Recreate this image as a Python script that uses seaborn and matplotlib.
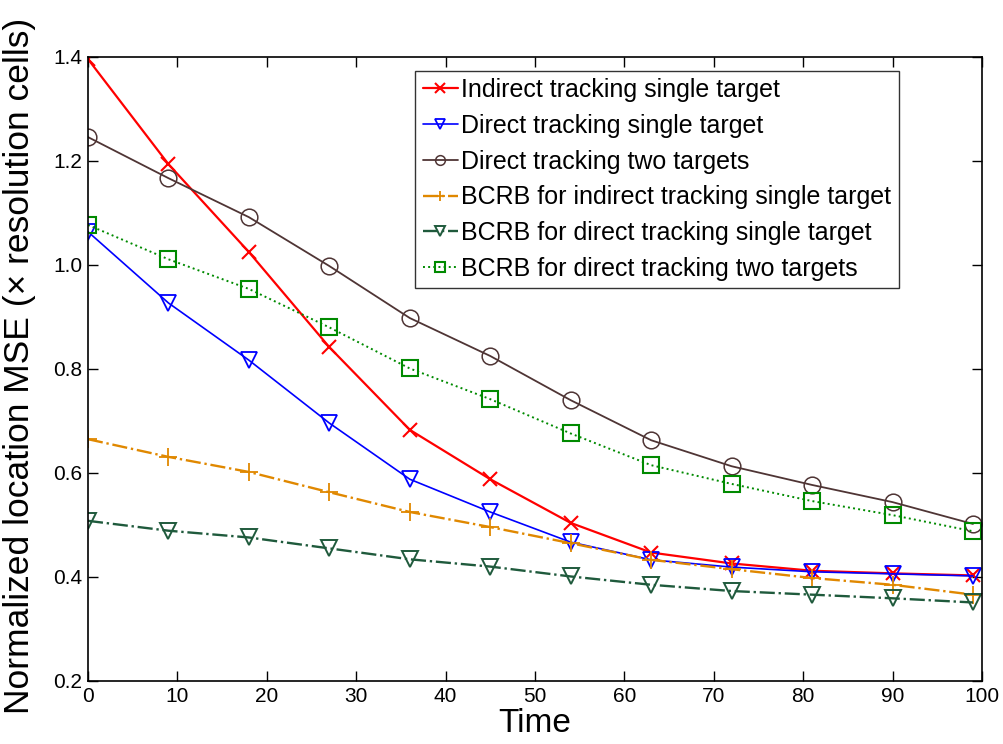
import numpy as np
import pandas as pd
import matplotlib
matplotlib.use("Agg")
import matplotlib.pyplot as plt
import seaborn as sns

sns.set_style("ticks")
plt.rcParams['font.family'] = ['Liberation Sans', 'DejaVu Sans']
plt.rcParams.update({"text.color": "black", "axes.labelcolor": "black",
                     "xtick.color": "black", "ytick.color": "black"})

time = [0, 9, 18, 27, 36, 45, 54, 63, 72, 81, 90, 99]

indirect_single = [1.396, 1.194, 1.025, 0.842, 0.683, 0.588, 0.504, 0.447, 0.426, 0.412, 0.407, 0.403]
direct_single = [1.064, 0.927, 0.817, 0.696, 0.588, 0.525, 0.467, 0.433, 0.419, 0.410, 0.406, 0.402]
direct_two = [1.246, 1.167, 1.092, 0.998, 0.898, 0.825, 0.740, 0.663, 0.613, 0.577, 0.544, 0.502]
bcrb_indirect_single = [0.665, 0.631, 0.602, 0.563, 0.525, 0.496, 0.465, 0.433, 0.415, 0.398, 0.385, 0.366]
bcrb_direct_single = [0.508, 0.489, 0.476, 0.455, 0.434, 0.420, 0.401, 0.385, 0.373, 0.366, 0.359, 0.351]
bcrb_direct_two = [1.077, 1.011, 0.954, 0.880, 0.801, 0.742, 0.676, 0.615, 0.579, 0.546, 0.519, 0.488]

labels = [
    "Indirect tracking single target",
    "Direct tracking single target",
    "Direct tracking two targets",
    "BCRB for indirect tracking single target",
    "BCRB for direct tracking single target",
    "BCRB for direct tracking two targets",
]
series = [indirect_single, direct_single, direct_two,
          bcrb_indirect_single, bcrb_direct_single, bcrb_direct_two]

styles = [
    dict(color="#ff0000", marker="x", linestyle="-", linewidth=1.6, markersize=10, markeredgewidth=1.5),
    dict(color="#0000ff", marker="v", linestyle="-", linewidth=1.2, markersize=12, markeredgewidth=1.3),
    dict(color="#4f3535", marker="o", linestyle="-", linewidth=1.3, markersize=12, markeredgewidth=1.1),
    dict(color="#e08800", marker="+", linestyle="-.", linewidth=1.7, markersize=13, markeredgewidth=1.3),
    dict(color="#1f5a3c", marker="v", linestyle="-.", linewidth=1.7, markersize=12, markeredgewidth=1.4),
    dict(color="#008a00", marker="s", linestyle=":", linewidth=1.4, markersize=11, markeredgewidth=1.5),
]

fig = plt.figure(figsize=(10.04, 7.44), dpi=100)
ax = fig.add_axes([0.0876, 0.0847, 0.8904, 0.8387])

for lab, vals, st in zip(labels, series, styles):
    df = pd.DataFrame({"Time": time, "MSE": vals})
    sns.lineplot(data=df, x="Time", y="MSE", ax=ax, label=lab,
                 markerfacecolor="none", markeredgecolor=st["color"], **st)

ax.set_xlim(0, 100)
ax.set_ylim(0.2, 1.4)
ax.set_xticks(np.arange(0, 101, 10))
ax.set_yticks(np.arange(0.2, 1.41, 0.2))
ax.set_yticklabels([f"{v:.1f}" for v in np.arange(0.2, 1.41, 0.2)])
ax.tick_params(direction="in", top=True, right=True, length=7, width=1,
               labelsize=15, pad=4)
for sp in ax.spines.values():
    sp.set_linewidth(1.2)
    sp.set_color("black")

ax.set_xlabel("Time", fontsize=24)
ax.xaxis.set_label_coords(0.5, -0.043, transform=ax.transAxes)
ax.xaxis.label.set_va("top")
ax.set_ylabel("Normalized location MSE (× resolution cells)", fontsize=25.5)
ax.yaxis.set_label_coords(-0.058, 0.505)

leg = ax.legend(loc="upper right", bbox_to_anchor=(0.907, 0.978), fontsize=18,
                handlelength=1.4, handletextpad=0.15, labelspacing=0.47,
                borderpad=0.3, frameon=True, fancybox=False, edgecolor="black",
                borderaxespad=0)
leg.get_frame().set_linewidth(1.0)
for h in leg.legend_handles:
    h.set_markersize(7)

fig.savefig("out.png", dpi=100)
